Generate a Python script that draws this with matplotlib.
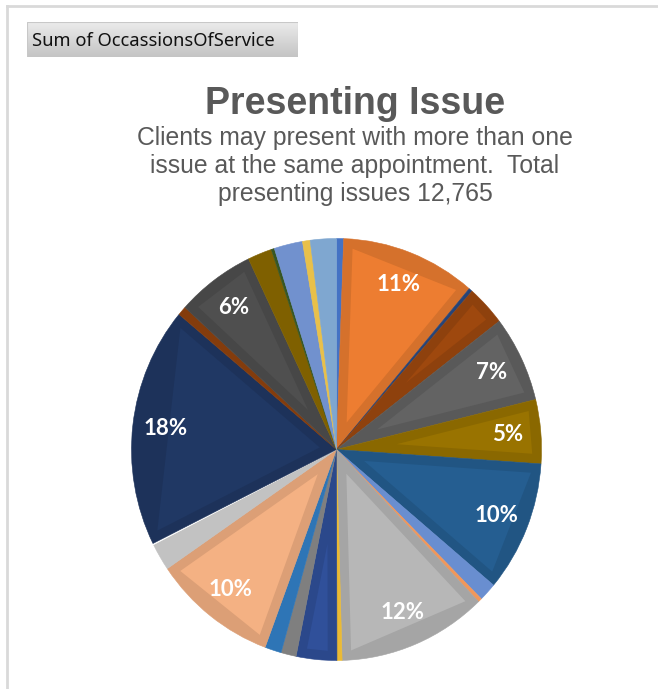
import numpy as np
import matplotlib
matplotlib.use('Agg')
from matplotlib import pyplot as plt
from matplotlib.patches import Polygon, Rectangle

# slices clockwise from 12 o'clock (names not shown on the chart)
issues = ['Issue %d' % (i + 1) for i in range(25)]
occasions = [71, 1360, 36, 396, 842, 625, 1280, 179, 38, 1500, 51, 408, 153,
             166, 1250, 268, 13, 2350, 89, 789, 243, 32, 287, 77, 262]
colours = ['#4472C4', '#ED7D31', '#264478', '#9E480E', '#636363', '#997300',
           '#255E91', '#698ED0', '#F1975A', '#B7B7B7', '#EBBA33', '#30509A',
           '#7F7F7F', '#2E75B6', '#F4B183', '#C2C2C2', '#FFFFFF', '#203864',
           '#843C0C', '#4F4F4F', '#7F6000', '#375623', '#7191CE', '#E8C04A',
           '#7FA7D0']
title = 'Presenting Issue'
subtitle = ('Clients may present with more than one\n'
            'issue at the same appointment.  Total\n'
            'presenting issues 12,765')
field_button = 'Sum of OccassionsOfService'

W, H = 658, 689
fig = plt.figure(figsize=(W / 100, H / 100), dpi=100)
fig.patch.set_facecolor('white')

def fx(px):
   return px / W

def fy(py):
   return 1 - py / H

# chart frame (only top and left edges visible)
fig.add_artist(plt.Line2D([fx(7), fx(W)], [fy(6), fy(6)], color='#D9D9D9', lw=2))
fig.add_artist(plt.Line2D([fx(7), fx(7)], [fy(6), fy(H)], color='#D9D9D9', lw=2))

# pivot field button with gradient
bax = fig.add_axes([fx(27), fy(57), fx(298) - fx(27), fy(22) - fy(57)])
grad = np.linspace(0, 1, 50).reshape(-1, 1)
bax.imshow(grad, aspect='auto', cmap=matplotlib.colors.LinearSegmentedColormap.from_list(
   'btn', ['#EBEBEB', '#C4C4C4']), extent=(0, 1, 0, 1), origin='upper')
bax.set_xlim(0, 1)
bax.set_ylim(0, 1)
bax.axis('off')
bax.add_patch(Rectangle((0, 0), 1, 1, fill=False, ec='#C8C8C8', lw=0.8))
bax.text(0.018, 0.46, field_button, fontsize=13.2, family='Noto Sans',
         color='#111111', va='center', ha='left')

fig.text(fx(355), fy(104), title, fontsize=27, fontweight='bold',
         family='Liberation Sans', color='#595959', ha='center', va='center')
fig.text(fx(355), fy(166), subtitle, fontsize=17.8, family='Liberation Sans',
         color='#595959', ha='center', va='center', linespacing=1.2)

# pie
cx, cy, rx, ry = 336.5, 449.5, 205, 211
ax = fig.add_axes([fx(cx - rx), fy(cy + ry), 2 * rx / W, 2 * ry / H])
vals = np.array(occasions, dtype=float)

def pct_label(p):
   return '%d%%' % round(p) if p >= 4.5 else ''

wedges, _, autotexts = ax.pie(vals, colors=colours, startangle=90, counterclock=False,
                              autopct=pct_label, pctdistance=0.84, radius=1,
                              wedgeprops=dict(lw=0.4),
                              textprops=dict(color='white', fontsize=16,
                                             fontweight='bold', family='Lato'))
for w, c in zip(wedges, colours):
   w.set_edgecolor(c)

# bevel look: darker outer band with lighter inset polygon for larger slices
d = 0.045
for w, c in zip(wedges, colours):
   t1, t2 = np.radians(w.theta1), np.radians(w.theta2)
   half = (t2 - t1) / 2
   if half < np.radians(5):
      continue
   rgb = np.array(matplotlib.colors.to_rgb(c))
   w.set_facecolor(rgb * 0.9)
   w.set_edgecolor(rgb * 0.9)
   mid = (t1 + t2) / 2
   apex_r = d / np.sin(half)
   apex = apex_r * np.array([np.cos(mid), np.sin(mid)])
   R = 1 - d
   a1 = t1 + np.arcsin(d / R)
   a2 = t2 - np.arcsin(d / R)
   p1 = R * np.array([np.cos(a1), np.sin(a1)])
   p2 = R * np.array([np.cos(a2), np.sin(a2)])
   ax.add_patch(Polygon([apex, p1, p2], closed=True, fc=rgb, ec='none', zorder=2))

for t in autotexts:
   t.set_zorder(5)

ax.set_xlim(-1.0, 1.0)
ax.set_ylim(-1.0, 1.0)
ax.set_aspect('auto')
ax.axis('off')

fig.savefig('out.png', dpi=100, facecolor='white')
